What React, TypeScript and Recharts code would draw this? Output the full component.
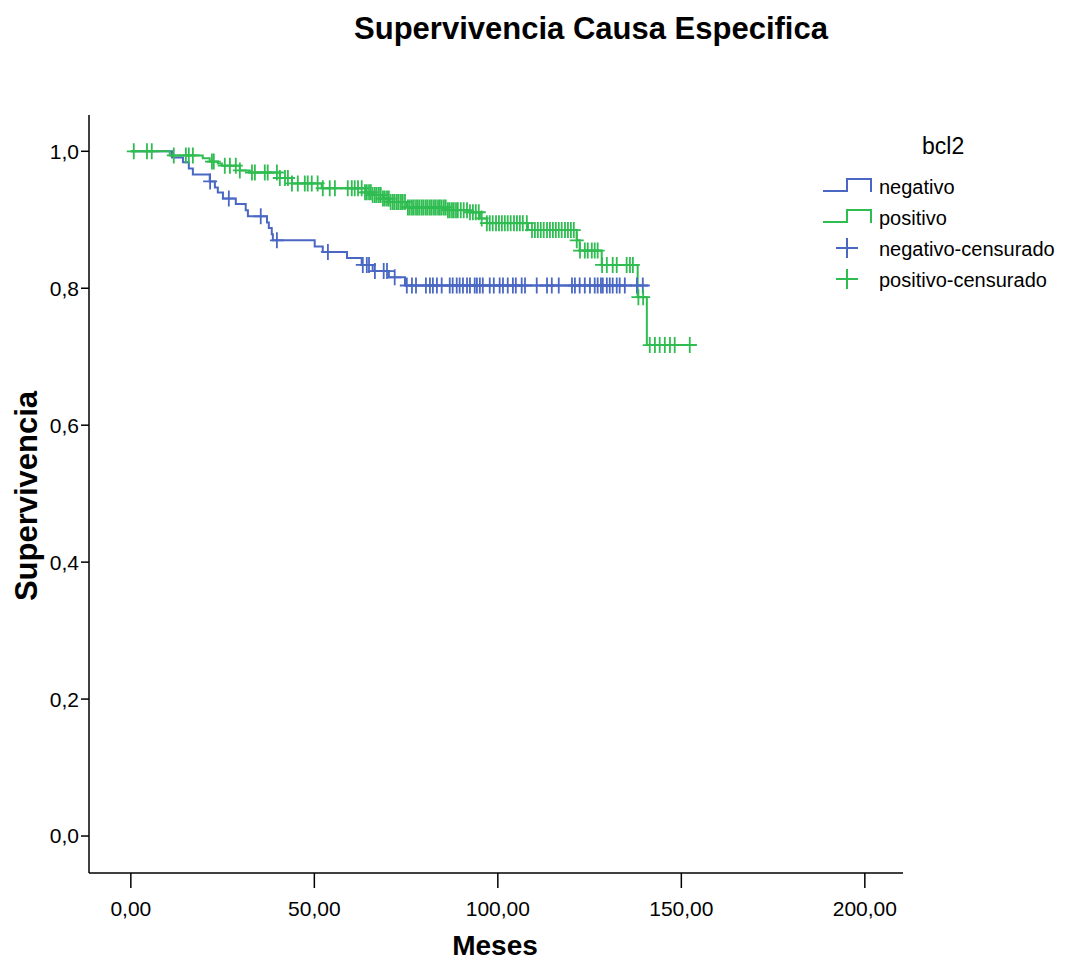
import React from 'react';
import { ComposedChart, Line, Scatter, XAxis, YAxis } from 'recharts';

const FONT = '"Liberation Sans", Arial, Helvetica, sans-serif';
const BLUE = '#4A68C3';
const GREEN = '#2FBC50';

const title = 'Supervivencia Causa Especifica';
const xLabel = 'Meses';
const yLabel = 'Supervivencia';
const legendTitle = 'bcl2';
const legendNames = ['negativo', 'positivo', 'negativo-censurado', 'positivo-censurado'];

const xTicks = [0, 50, 100, 150, 200];
const yTicks = [0, 0.2, 0.4, 0.6, 0.8, 1.0];

// negativo step curve
const negTimes = [0, 11.2, 14.2, 15.8, 16.9, 21.5, 22.9, 23.7, 25.1, 28.6, 31.3, 31.9, 37.1, 37.6, 38.4, 38.7, 50.1, 52.3, 58.9, 62.9, 65.9, 70.3, 74.7, 141.0];
const negSurv = [1.0, 0.991, 0.984, 0.975, 0.966, 0.956, 0.947, 0.940, 0.931, 0.923, 0.914, 0.905, 0.896, 0.888, 0.879, 0.870, 0.861, 0.853, 0.844, 0.834, 0.825, 0.816, 0.804, 0.804];

// positivo step curve
const posTimes = [0, 10.6, 19.6, 21.5, 23.7, 24.8, 29.7, 32.4, 40.6, 43.9, 52.0, 63.8, 65.9, 68.7, 70.6, 75.2, 86.1, 92.4, 95.1, 97.0, 108.2, 121.5, 122.3, 128.3, 138.1, 140.6, 154.2];
const posSurv = [1.0, 0.994, 0.990, 0.985, 0.982, 0.979, 0.972, 0.969, 0.961, 0.953, 0.946, 0.940, 0.936, 0.931, 0.926, 0.918, 0.914, 0.911, 0.902, 0.895, 0.885, 0.870, 0.855, 0.834, 0.787, 0.717, 0.717];

// censored times
const negCensor = [21.6, 26.7, 35.4, 39.8, 53.7, 63.2, 64.3, 64.9, 66.5, 68.9, 69.8, 71.9, 75.2, 76.6, 77.7, 80.4, 81.5, 82.3, 83.4, 84.7, 86.9, 87.7, 88.8, 89.6, 90.5, 91.6, 92.4, 93.7, 94.3, 95.1, 95.9, 97.8, 98.9, 100.5, 101.4, 102.7, 104.1, 104.9, 106.5, 107.4, 110.6, 113.4, 114.7, 116.6, 120.2, 121.0, 122.3, 123.7, 125.1, 126.4, 127.2, 128.1, 128.6, 129.7, 130.5, 131.3, 132.4, 133.2, 134.6, 137.9, 139.5];
const posCensor = [0.8, 4.4, 5.7, 11.7, 15.0, 15.8, 16.9, 22.1, 22.6, 25.6, 27.0, 28.6, 29.7, 33.0, 33.8, 36.5, 37.3, 39.8, 40.6, 42.0, 42.8, 43.9, 45.5, 47.4, 48.2, 49.3, 50.9, 52.3, 54.2, 55.6, 59.1, 60.2, 61.0, 61.9, 62.9, 63.8, 64.3, 64.9, 65.4, 65.9, 66.5, 67.0, 67.6, 68.1, 68.7, 69.2, 69.8, 70.3, 70.8, 71.4, 71.9, 72.5, 73.0, 73.6, 74.1, 74.7, 75.5, 76.0, 76.6, 77.1, 77.7, 78.2, 78.7, 79.3, 79.8, 80.4, 80.9, 81.5, 82.0, 82.6, 83.1, 83.7, 84.2, 84.7, 85.3, 85.8, 86.4, 86.9, 87.5, 88.0, 88.6, 89.1, 89.9, 90.7, 91.6, 92.4, 93.2, 94.0, 94.8, 95.6, 97.0, 97.8, 98.6, 99.5, 100.3, 101.1, 101.9, 102.7, 103.5, 104.4, 105.2, 106.0, 106.8, 107.9, 109.3, 110.1, 110.9, 111.7, 112.5, 113.4, 114.2, 115.0, 115.8, 116.6, 117.4, 118.3, 119.1, 119.9, 120.7, 121.5, 122.4, 123.7, 124.5, 125.6, 126.4, 127.2, 128.4, 129.7, 131.3, 132.4, 135.1, 136.0, 136.8, 138.3, 139.6, 141.4, 142.8, 144.1, 145.5, 146.9, 148.2, 152.3];

const stepValue = (times: number[], surv: number[], t: number) => {
  let v = surv[0];
  for (let i = 0; i < times.length; i++) if (times[i] <= t) v = surv[i];
  return v;
};

const negLine = negTimes.map((t, i) => ({ x: t, y: negSurv[i] }));
const posLine = posTimes.map((t, i) => ({ x: t, y: posSurv[i] }));
const negCensorData = negCensor.map((t) => ({ x: t, y: stepValue(negTimes, negSurv, t) }));
const posCensorData = posCensor.map((t) => ({ x: t, y: stepValue(posTimes, posSurv, t) }));

const makeCross = (color: string) => (props: any) => {
  const { cx, cy } = props;
  if (cx == null || cy == null) return <g />;
  return (
    <path
      d={`M${cx - 7},${cy}H${cx + 7}M${cx},${cy - 8}V${cy + 8}`}
      stroke={color}
      strokeWidth={1.8}
      fill="none"
    />
  );
};

const fmtY = (v: number) => v.toFixed(1).replace('.', ',');
const fmtX = (v: number) => v.toFixed(2).replace('.', ',');

export default function App() {
  return (
    <div style={{ position: 'absolute', left: 0, top: 0, width: 1071, height: 960, background: '#fff' }}>
      <ComposedChart
        width={1071}
        height={960}
        margin={{ top: 115, right: 168, bottom: 0, left: 0 }}
      >
        <XAxis
          type="number"
          dataKey="x"
          domain={[-11.4, 210.4]}
          ticks={xTicks}
          allowDataOverflow
          tickFormatter={fmtX}
          height={87}
          tickSize={15}
          tickMargin={13}
          stroke="#000"
          axisLine={{ stroke: '#000', strokeWidth: 1.5 }}
          tickLine={{ stroke: '#000', strokeWidth: 1.5 }}
          tick={{ fill: '#000', fontSize: 21, fontFamily: FONT }}
        />
        <YAxis
          type="number"
          dataKey="y"
          domain={[-0.054, 1.053]}
          ticks={yTicks}
          allowDataOverflow
          tickFormatter={fmtY}
          width={89}
          tickSize={8}
          tickMargin={2}
          stroke="#000"
          axisLine={{ stroke: '#000', strokeWidth: 1.5 }}
          tickLine={{ stroke: '#000', strokeWidth: 1.5 }}
          tick={{ fill: '#000', fontSize: 21, fontFamily: FONT }}
        />
        <Line
          data={negLine}
          dataKey="y"
          type="stepAfter"
          stroke={BLUE}
          strokeWidth={2}
          dot={false}
          activeDot={false}
          isAnimationActive={false}
        />
        <Line
          data={posLine}
          dataKey="y"
          type="stepAfter"
          stroke={GREEN}
          strokeWidth={2}
          dot={false}
          activeDot={false}
          isAnimationActive={false}
        />
        <Scatter data={negCensorData} dataKey="y" shape={makeCross(BLUE)} isAnimationActive={false} />
        <Scatter data={posCensorData} dataKey="y" shape={makeCross(GREEN)} isAnimationActive={false} />
      </ComposedChart>
      <svg
        width={1071}
        height={960}
        style={{ position: 'absolute', left: 0, top: 0, pointerEvents: 'none' }}
        fontFamily={FONT}
      >
        <text x={591} y={39} textAnchor="middle" fontSize={31} fontWeight="bold" fill="#000">
          {title}
        </text>
        <text x={495} y={955} textAnchor="middle" fontSize={28} fontWeight="bold" fill="#000">
          {xLabel}
        </text>
        <text
          x={0}
          y={0}
          transform="translate(37,496) rotate(-90)"
          textAnchor="middle"
          fontSize={31}
          fontWeight="bold"
          fill="#000"
        >
          {yLabel}
        </text>
        <text x={922} y={154} fontSize={23} fill="#000">
          {legendTitle}
        </text>
        <path d="M823,191H847V179H871V192" stroke={BLUE} strokeWidth={2} fill="none" />
        <path d="M823,222H847V210H871V223" stroke={GREEN} strokeWidth={2} fill="none" />
        <path d="M836,248H858M847,238V258" stroke={BLUE} strokeWidth={2} fill="none" />
        <path d="M836,279H858M847,269V289" stroke={GREEN} strokeWidth={2} fill="none" />
        <text x={879} y={194} fontSize={20} fill="#000">{legendNames[0]}</text>
        <text x={879} y={225} fontSize={20} fill="#000">{legendNames[1]}</text>
        <text x={879} y={256} fontSize={20} fill="#000">{legendNames[2]}</text>
        <text x={879} y={287} fontSize={20} fill="#000">{legendNames[3]}</text>
      </svg>
    </div>
  );
}
